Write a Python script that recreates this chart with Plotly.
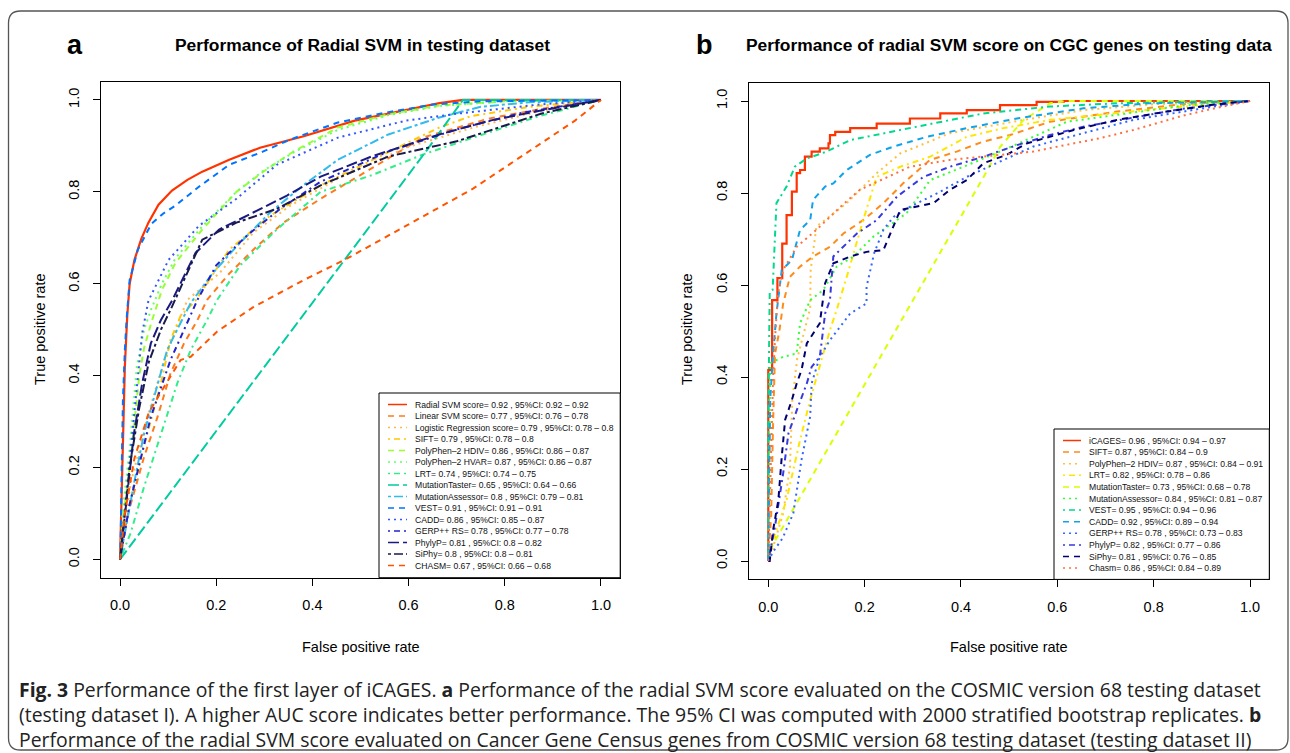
import plotly.graph_objects as go

W, H = 1290, 753

# ---------------- Panel a data (ROC curves, testing dataset I) ----------------
a_names = ["Radial SVM score", "Linear SVM score", "Logistic Regression score", "SIFT",
           "PolyPhen–2 HDIV", "PolyPhen–2 HVAR", "LRT", "MutationTaster",
           "MutationAssessor", "VEST", "CADD", "GERP++ RS", "PhylyP", "SiPhy", "CHASM"]
a_auc = ["0.92", "0.77", "0.79", "0.79", "0.86", "0.87", "0.74", "0.65", "0.8", "0.91",
         "0.86", "0.78", "0.81", "0.8", "0.67"]
a_ci = ["0.92 – 0.92", "0.76 – 0.78", "0.78 – 0.8", "0.78 – 0.8", "0.86 – 0.87",
        "0.86 – 0.87", "0.74 – 0.75", "0.64 – 0.66", "0.79 – 0.81", "0.91 – 0.91",
        "0.85 – 0.87", "0.77 – 0.78", "0.8 – 0.82", "0.8 – 0.81", "0.66 – 0.68"]

a_radial_fpr = [0, 0.003, 0.006, 0.01, 0.015, 0.02, 0.03, 0.044, 0.059, 0.08, 0.108, 0.14, 0.171, 0.227, 0.291, 0.382, 0.488, 0.594, 0.664, 0.713, 1.0]
a_radial_tpr = [0, 0.13, 0.27, 0.42, 0.53, 0.6, 0.652, 0.697, 0.733, 0.772, 0.803, 0.826, 0.844, 0.87, 0.896, 0.921, 0.955, 0.978, 0.993, 1.0, 1.0]
a_linear_fpr = [0, 0.015, 0.05, 0.078, 0.105, 0.133, 0.161, 0.181, 0.227, 0.284, 0.34, 0.417, 0.523, 0.629, 0.769, 0.9, 1.0]
a_linear_tpr = [0, 0.093, 0.223, 0.31, 0.405, 0.47, 0.521, 0.565, 0.622, 0.681, 0.733, 0.785, 0.851, 0.918, 0.96, 0.985, 1.0]
a_logit_fpr = [0, 0.022, 0.057, 0.092, 0.126, 0.14, 0.206, 0.277, 0.354, 0.453, 0.594, 0.734, 0.87, 1.0]
a_logit_tpr = [0, 0.165, 0.31, 0.434, 0.528, 0.565, 0.622, 0.711, 0.77, 0.829, 0.896, 0.94, 0.975, 1.0]
a_sift_fpr = [0, 0.02, 0.05, 0.085, 0.105, 0.126, 0.157, 0.227, 0.312, 0.417, 0.594, 0.664, 0.73, 0.85, 1.0]
a_sift_tpr = [0, 0.12, 0.247, 0.383, 0.478, 0.53, 0.563, 0.674, 0.748, 0.814, 0.905, 0.94, 0.965, 0.985, 1.0]
a_hdiv_fpr = [0, 0.005, 0.022, 0.04, 0.05, 0.065, 0.087, 0.115, 0.171, 0.242, 0.298, 0.361, 0.453, 0.558, 0.664, 0.8, 1.0]
a_hdiv_tpr = [0, 0.08, 0.216, 0.40, 0.46, 0.515, 0.586, 0.645, 0.718, 0.80, 0.844, 0.888, 0.94, 0.969, 0.988, 0.997, 1.0]
a_hvar_fpr = [0, 0.005, 0.02, 0.035, 0.05, 0.065, 0.087, 0.115, 0.171, 0.242, 0.298, 0.361, 0.453, 0.558, 0.664, 0.8, 1.0]
a_hvar_tpr = [0, 0.1, 0.24, 0.42, 0.5, 0.545, 0.6, 0.655, 0.725, 0.80, 0.846, 0.886, 0.935, 0.967, 0.987, 0.997, 1.0]
a_lrt_fpr = [0, 0.022, 0.05, 0.085, 0.119, 0.147, 0.181, 0.202, 0.25, 0.326, 0.417, 0.523, 0.629, 0.734, 0.875, 1.0]
a_lrt_tpr = [0, 0.057, 0.158, 0.274, 0.383, 0.456, 0.521, 0.565, 0.64, 0.718, 0.80, 0.836, 0.881, 0.918, 0.966, 1.0]
a_mt_fpr = [0, 0.636, 0.713, 1.0]
a_mt_tpr = [0, 0.888, 1.0, 1.0]
a_ma_fpr = [0, 0.029, 0.05, 0.078, 0.098, 0.126, 0.147, 0.192, 0.242, 0.312, 0.382, 0.453, 0.558, 0.664, 0.75, 0.85, 1.0]
a_ma_tpr = [0, 0.165, 0.274, 0.383, 0.456, 0.515, 0.558, 0.622, 0.681, 0.755, 0.815, 0.87, 0.925, 0.962, 0.985, 0.995, 1.0]
a_vest_fpr = [0, 0.0015, 0.0035, 0.006, 0.01, 0.014, 0.02, 0.037, 0.065, 0.09, 0.115, 0.164, 0.227, 0.298, 0.354, 0.453, 0.55, 0.65, 0.75, 1.0]
a_vest_tpr = [0, 0.057, 0.2, 0.347, 0.456, 0.528, 0.608, 0.674, 0.73, 0.753, 0.77, 0.811, 0.859, 0.888, 0.914, 0.951, 0.972, 0.99, 0.997, 1.0]
a_cadd_fpr = [0, 0.012, 0.026, 0.036, 0.046, 0.059, 0.101, 0.164, 0.242, 0.326, 0.453, 0.594, 0.70, 0.87, 1.0]
a_cadd_tpr = [0, 0.129, 0.274, 0.383, 0.492, 0.563, 0.652, 0.726, 0.785, 0.859, 0.918, 0.955, 0.97, 0.99, 1.0]
a_gerp_fpr = [0, 0.02, 0.064, 0.105, 0.161, 0.2, 0.263, 0.333, 0.417, 0.558, 0.70, 0.84, 1.0]
a_gerp_tpr = [0, 0.12, 0.31, 0.434, 0.565, 0.64, 0.704, 0.763, 0.822, 0.888, 0.936, 0.973, 1.0]
a_phylop_fpr = [0, 0.029, 0.046, 0.064, 0.085, 0.108, 0.157, 0.206, 0.277, 0.347, 0.417, 0.523, 0.664, 0.769, 0.875, 1.0]
a_phylop_tpr = [0, 0.274, 0.383, 0.47, 0.521, 0.563, 0.667, 0.718, 0.755, 0.792, 0.833, 0.877, 0.925, 0.955, 0.977, 1.0]
a_siphy_fpr = [0, 0.02, 0.04, 0.06, 0.085, 0.108, 0.171, 0.242, 0.326, 0.417, 0.558, 0.70, 0.875, 1.0]
a_siphy_tpr = [0, 0.2, 0.33, 0.43, 0.5, 0.55, 0.696, 0.733, 0.763, 0.814, 0.877, 0.91, 0.97, 1.0]
a_chasm_fpr = [0, 0.01, 0.03, 0.06, 0.1, 0.126, 0.147, 0.202, 0.277, 0.382, 0.467, 0.594, 0.734, 0.84, 0.946, 1.0]
a_chasm_tpr = [0, 0.1, 0.22, 0.32, 0.39, 0.434, 0.441, 0.496, 0.549, 0.608, 0.652, 0.726, 0.807, 0.881, 0.955, 1.0]

a_fprs = [a_radial_fpr, a_linear_fpr, a_logit_fpr, a_sift_fpr, a_hdiv_fpr, a_hvar_fpr, a_lrt_fpr,
          a_mt_fpr, a_ma_fpr, a_vest_fpr, a_cadd_fpr, a_gerp_fpr, a_phylop_fpr, a_siphy_fpr, a_chasm_fpr]
a_tprs = [a_radial_tpr, a_linear_tpr, a_logit_tpr, a_sift_tpr, a_hdiv_tpr, a_hvar_tpr, a_lrt_tpr,
          a_mt_tpr, a_ma_tpr, a_vest_tpr, a_cadd_tpr, a_gerp_tpr, a_phylop_tpr, a_siphy_tpr, a_chasm_tpr]
a_colors = ["#FF3300", "#FF7A1A", "#FFB84D", "#FFC800", "#99FF33", "#66FF66", "#33EE88", "#00CCA0",
            "#33BBEE", "#0073FF", "#3355FF", "#2222CC", "#1A1A80", "#1A1A4D", "#FF5500"]
a_styles = ["solid", "dash", "dot", "dotdash", "dash", "dot", "dotdash", "longdash",
            "twodash", "dash", "dot", "dotdash", "longdash", "twodash", "dash"]

# ---------------- Panel b data (ROC curves, CGC genes, testing dataset II) ----------------
b_names = ["iCAGES", "SIFT", "PolyPhen–2 HDIV", "LRT", "MutationTaster", "MutationAssessor",
           "VEST", "CADD", "GERP++ RS", "PhylyP", "SiPhy", "Chasm"]
b_auc = ["0.96", "0.87", "0.87", "0.82", "0.73", "0.84", "0.95", "0.92", "0.78", "0.82", "0.81", "0.86"]
b_ci = ["0.94 – 0.97", "0.84 – 0.9", "0.84 – 0.91", "0.78 – 0.86", "0.68 – 0.78", "0.81 – 0.87",
        "0.94 – 0.96", "0.89 – 0.94", "0.73 – 0.83", "0.77 – 0.86", "0.76 – 0.85", "0.84 – 0.89"]

b_icages_fpr = [0, 0.008, 0.019, 0.029, 0.038, 0.049, 0.059, 0.066, 0.076, 0.09, 0.107, 0.125, 0.128, 0.139, 0.17, 0.225, 0.294, 0.357, 0.412, 0.481, 0.557, 0.613, 1.0]
b_icages_tpr = [0, 0.415, 0.567, 0.615, 0.69, 0.752, 0.803, 0.843, 0.85, 0.879, 0.89, 0.897, 0.908, 0.926, 0.933, 0.941, 0.951, 0.962, 0.973, 0.98, 0.991, 0.998, 1.0]
b_sift_fpr = [0, 0.006, 0.01, 0.014, 0.023, 0.031, 0.045, 0.066, 0.093, 0.128, 0.156, 0.197, 0.239, 0.28, 0.336, 0.391, 0.447, 0.502, 0.585, 0.724, 0.86, 1.0]
b_sift_tpr = [0, 0.1, 0.3, 0.45, 0.5, 0.56, 0.618, 0.64, 0.662, 0.683, 0.712, 0.741, 0.778, 0.821, 0.872, 0.89, 0.912, 0.926, 0.955, 0.977, 0.993, 1.0]
b_hdiv_fpr = [0, 0.01, 0.031, 0.045, 0.05, 0.06, 0.075, 0.087, 0.088, 0.1, 0.163, 0.225, 0.274, 0.377, 0.53, 0.654, 0.8, 1.0]
b_hdiv_tpr = [0, 0.03, 0.104, 0.205, 0.35, 0.44, 0.5, 0.55, 0.633, 0.727, 0.778, 0.843, 0.886, 0.93, 0.959, 0.98, 0.993, 1.0]
b_lrt_fpr = [0, 0.01, 0.038, 0.066, 0.087, 0.107, 0.128, 0.142, 0.163, 0.197, 0.225, 0.274, 0.336, 0.412, 0.488, 0.585, 0.688, 0.83, 1.0]
b_lrt_tpr = [0, 0.046, 0.133, 0.263, 0.35, 0.422, 0.502, 0.546, 0.618, 0.741, 0.835, 0.857, 0.879, 0.922, 0.941, 0.959, 0.97, 0.985, 1.0]
b_mt_fpr = [0, 0.007, 0.447, 0.481, 0.53, 0.585, 0.62, 1.0]
b_mt_tpr = [0, 0.031, 0.835, 0.9, 0.959, 0.995, 1.0, 1.0]
b_ma_fpr = [0, 0.002, 0.004, 0.031, 0.059, 0.066, 0.087, 0.114, 0.142, 0.177, 0.218, 0.287, 0.336, 0.405, 0.481, 0.55, 0.62, 0.724, 0.86, 1.0]
b_ma_tpr = [0, 0.2, 0.43, 0.444, 0.451, 0.517, 0.567, 0.589, 0.64, 0.662, 0.705, 0.756, 0.828, 0.857, 0.89, 0.922, 0.955, 0.97, 0.99, 1.0]
b_vest_fpr = [0, 0.0, 0.003, 0.009, 0.017, 0.038, 0.055, 0.08, 0.121, 0.17, 0.274, 0.377, 0.447, 0.585, 0.724, 0.86, 1.0]
b_vest_tpr = [0, 0.3, 0.585, 0.589, 0.778, 0.814, 0.857, 0.875, 0.89, 0.915, 0.937, 0.959, 0.973, 0.988, 0.995, 0.998, 1.0]
b_cadd_fpr = [0, 0.002, 0.004, 0.01, 0.017, 0.028, 0.049, 0.066, 0.087, 0.093, 0.118, 0.135, 0.163, 0.211, 0.26, 0.329, 0.412, 0.516, 0.654, 0.79, 1.0]
b_cadd_tpr = [0, 0.2, 0.35, 0.45, 0.538, 0.633, 0.654, 0.72, 0.741, 0.785, 0.814, 0.821, 0.85, 0.883, 0.901, 0.922, 0.941, 0.962, 0.984, 0.995, 1.0]
b_gerp_fpr = [0, 0.01, 0.03, 0.052, 0.069, 0.087, 0.09, 0.107, 0.128, 0.149, 0.17, 0.204, 0.204, 0.22, 0.239, 0.26, 0.294, 0.35, 0.412, 0.474, 0.55, 0.654, 0.758, 0.896, 1.0]
b_gerp_tpr = [0, 0.02, 0.05, 0.104, 0.22, 0.314, 0.386, 0.444, 0.48, 0.509, 0.538, 0.56, 0.596, 0.67, 0.72, 0.748, 0.77, 0.799, 0.835, 0.865, 0.901, 0.93, 0.959, 0.983, 1.0]
b_phylop_fpr = [0, 0.014, 0.031, 0.042, 0.06, 0.08, 0.09, 0.107, 0.118, 0.128, 0.135, 0.184, 0.225, 0.267, 0.322, 0.377, 0.447, 0.516, 0.585, 0.654, 0.758, 0.86, 1.0]
b_phylop_tpr = [0, 0.075, 0.191, 0.278, 0.33, 0.386, 0.422, 0.444, 0.538, 0.567, 0.662, 0.712, 0.741, 0.792, 0.835, 0.857, 0.879, 0.904, 0.926, 0.944, 0.964, 0.983, 1.0]
b_siphy_fpr = [0, 0.003, 0.01, 0.021, 0.028, 0.035, 0.049, 0.059, 0.069, 0.08, 0.107, 0.118, 0.135, 0.17, 0.204, 0.239, 0.274, 0.308, 0.343, 0.377, 0.412, 0.447, 0.495, 0.537, 0.585, 0.634, 0.724, 0.827, 0.93, 1.0]
b_siphy_tpr = [0, 0.0, 0.067, 0.133, 0.227, 0.307, 0.35, 0.386, 0.415, 0.473, 0.517, 0.604, 0.647, 0.662, 0.672, 0.676, 0.763, 0.77, 0.778, 0.807, 0.828, 0.865, 0.883, 0.908, 0.922, 0.937, 0.959, 0.977, 0.993, 1.0]
b_chasm_fpr = [0, 0.005, 0.01, 0.015, 0.02, 0.031, 0.059, 0.1, 0.15, 0.19, 0.294, 0.377, 0.447, 0.55, 0.62, 0.688, 0.758, 0.86, 0.93, 1.0]
b_chasm_tpr = [0, 0.2, 0.4, 0.5, 0.58, 0.633, 0.683, 0.72, 0.77, 0.807, 0.857, 0.872, 0.879, 0.89, 0.905, 0.919, 0.937, 0.968, 0.985, 1.0]

b_fprs = [b_icages_fpr, b_sift_fpr, b_hdiv_fpr, b_lrt_fpr, b_mt_fpr, b_ma_fpr, b_vest_fpr,
          b_cadd_fpr, b_gerp_fpr, b_phylop_fpr, b_siphy_fpr, b_chasm_fpr]
b_tprs = [b_icages_tpr, b_sift_tpr, b_hdiv_tpr, b_lrt_tpr, b_mt_tpr, b_ma_tpr, b_vest_tpr,
          b_cadd_tpr, b_gerp_tpr, b_phylop_tpr, b_siphy_tpr, b_chasm_tpr]
b_colors = ["#FF3300", "#FF8C1A", "#FFC040", "#FFE600", "#D9FF00", "#33FF33", "#00D98C",
            "#0FA3E8", "#3366FF", "#3838E0", "#000070", "#FF7040"]
b_styles = ["solid", "dash", "dot", "dotdash", "dash", "dot", "dotdash", "dash", "dot",
            "dotdash", "dash", "dot"]

tick_vals = [0, 0.2, 0.4, 0.6, 0.8, 1.0]
tick_text = ["0.0", "0.2", "0.4", "0.6", "0.8", "1.0"]

# R-like line types
DASH = {"solid": "solid", "dash": "6px,5px", "dot": "2px,4px", "dotdash": "2px,4px,6px,4px",
        "longdash": "11px,4px", "twodash": "3px,3px,9px,3px"}

FONT = "Liberation Sans, Arial, Helvetica, sans-serif"

fig = go.Figure()

for i in range(len(a_names)):
    fig.add_trace(go.Scatter(x=a_fprs[i], y=a_tprs[i], mode="lines", xaxis="x", yaxis="y",
                             line=dict(color=a_colors[i], width=2.2 if i == 0 else 2,
                                       dash=DASH[a_styles[i]]),
                             showlegend=False, hoverinfo="skip"))
for i in range(len(b_names)):
    fig.add_trace(go.Scatter(x=b_fprs[i], y=b_tprs[i], mode="lines", xaxis="x2", yaxis="y2",
                             line=dict(color=b_colors[i], width=2.2 if i == 0 else 2,
                                       dash=DASH[b_styles[i]],
                                       shape="vh" if i == 0 else "linear"),
                             showlegend=False, hoverinfo="skip"))

def X(p):
    return p / W

def Y(p):
    return 1 - p / H

# panel geometry (pixels)
ax_l, ax_r, ax_t, ax_b = 100.8, 620.2, 81.6, 577.7
bx_l, bx_r, bx_t, bx_b = 749.0, 1269.3, 82.6, 579.4

axis_common = dict(range=[-0.04, 1.04], tickvals=tick_vals, ticktext=tick_text, ticks="outside",
                   ticklen=7, tickwidth=1, tickcolor="black", showline=True, mirror=True,
                   linecolor="black", linewidth=1, showgrid=False, zeroline=False,
                   tickfont=dict(family=FONT, size=14.5, color="black"), fixedrange=True)

fig.update_layout(
    width=W, height=H, margin=dict(l=0, r=0, t=0, b=0),
    paper_bgcolor="white", plot_bgcolor="white", showlegend=False,
    xaxis=dict(domain=[X(ax_l), X(ax_r)], anchor="y", ticklabelstandoff=7, **axis_common),
    yaxis=dict(domain=[Y(ax_b), Y(ax_t)], anchor="x", tickangle=-90, ticklabelstandoff=8, **axis_common),
    xaxis2=dict(domain=[X(bx_l), X(bx_r)], anchor="y2", ticklabelstandoff=7, **axis_common),
    yaxis2=dict(domain=[Y(bx_b), Y(bx_t)], anchor="x2", tickangle=-90, ticklabelstandoff=8, **axis_common),
)

shapes = []
annots = []

# outer rounded frame
fx0, fx1, fy0, fy1, r = 8.5, 1288, 11, 750, 12
path = (f"M {X(fx0 + r)},{Y(fy0)} L {X(fx1 - r)},{Y(fy0)} Q {X(fx1)},{Y(fy0)} {X(fx1)},{Y(fy0 + r)} "
        f"L {X(fx1)},{Y(fy1 - r)} Q {X(fx1)},{Y(fy1)} {X(fx1 - r)},{Y(fy1)} "
        f"L {X(fx0 + r)},{Y(fy1)} Q {X(fx0)},{Y(fy1)} {X(fx0)},{Y(fy1 - r)} "
        f"L {X(fx0)},{Y(fy0 + r)} Q {X(fx0)},{Y(fy0)} {X(fx0 + r)},{Y(fy0)} Z")
shapes.append(dict(type="path", xref="paper", yref="paper", path=path,
                   line=dict(color="#555555", width=1.3), layer="below"))

def legend(names, aucs, cis, colors, styles, box, line_x, text_x, y0, dy):
    bl, bt, br, bb = box
    shapes.append(dict(type="rect", xref="paper", yref="paper", x0=X(bl), x1=X(br), y0=Y(bb), y1=Y(bt),
                       line=dict(color="black", width=1), fillcolor="white", layer="above"))
    for i, n in enumerate(names):
        yy = y0 + i * dy
        shapes.append(dict(type="line", xref="paper", yref="paper", x0=X(line_x[0]), x1=X(line_x[1]),
                           y0=Y(yy), y1=Y(yy), layer="above",
                           line=dict(color=colors[i], width=1.5, dash=DASH[styles[i]])))
        annots.append(dict(xref="paper", yref="paper", x=X(text_x), y=Y(yy), xanchor="left",
                           yanchor="middle", showarrow=False,
                           text=f"{n}= {aucs[i]} , 95%CI: {cis[i]}",
                           font=dict(family=FONT, size=8.6, color="#111111")))

legend(a_names, a_auc, a_ci, a_colors, a_styles, (379, 393, ax_r, ax_b), (388, 407), 413, 404.5, 11.5)
legend(b_names, b_auc, b_ci, b_colors, b_styles, (1054, 429, bx_r, bx_b), (1063, 1081), 1087, 440.5, 11.6)

def label(x, y, text, size, angle=0, family=FONT, color="black"):
    annots.append(dict(xref="paper", yref="paper", x=X(x), y=Y(y), xanchor="center", yanchor="middle",
                       text=text, showarrow=False, textangle=angle,
                       font=dict(family=family, size=size, color=color)))

# panel letters, titles, axis titles
label(75, 45, "<b>a</b>", 27)
label(704, 45, "<b>b</b>", 27)
label(362, 45, "<b>Performance of Radial SVM in testing dataset</b>", 17.4)
label(1009, 45, "<b>Performance of radial SVM score on CGC genes on testing data</b>", 17.4)
label(361, 647, "False positive rate", 14.5)
label(1009, 647, "False positive rate", 14.5)
label(40, 330, "True positive rate", 14.5, angle=-90)
label(687, 330, "True positive rate", 14.5, angle=-90)

caption = [
    "<b>Fig. 3</b> Performance of the first layer of iCAGES. <b>a</b> Performance of the radial SVM score evaluated on the COSMIC version 68 testing dataset",
    "(testing dataset I). A higher AUC score indicates better performance. The 95% CI was computed with 2000 stratified bootstrap replicates. <b>b</b>",
    "Performance of the radial SVM score evaluated on Cancer Gene Census genes from COSMIC version 68 testing dataset (testing dataset II)",
]
annots.append(dict(xref="paper", yref="paper", x=X(17), y=Y(714.5), xanchor="left", yanchor="middle",
                   align="left", text="<br>".join(caption), showarrow=False,
                   font=dict(family="Open Sans, sans-serif", size=19.4, color="#222222")))

fig.update_layout(shapes=shapes, annotations=annots)
fig.write_html("out.html", config={"displayModeBar": False},
               post_script="document.body.style.margin='0px';document.body.style.overflow='hidden';")
